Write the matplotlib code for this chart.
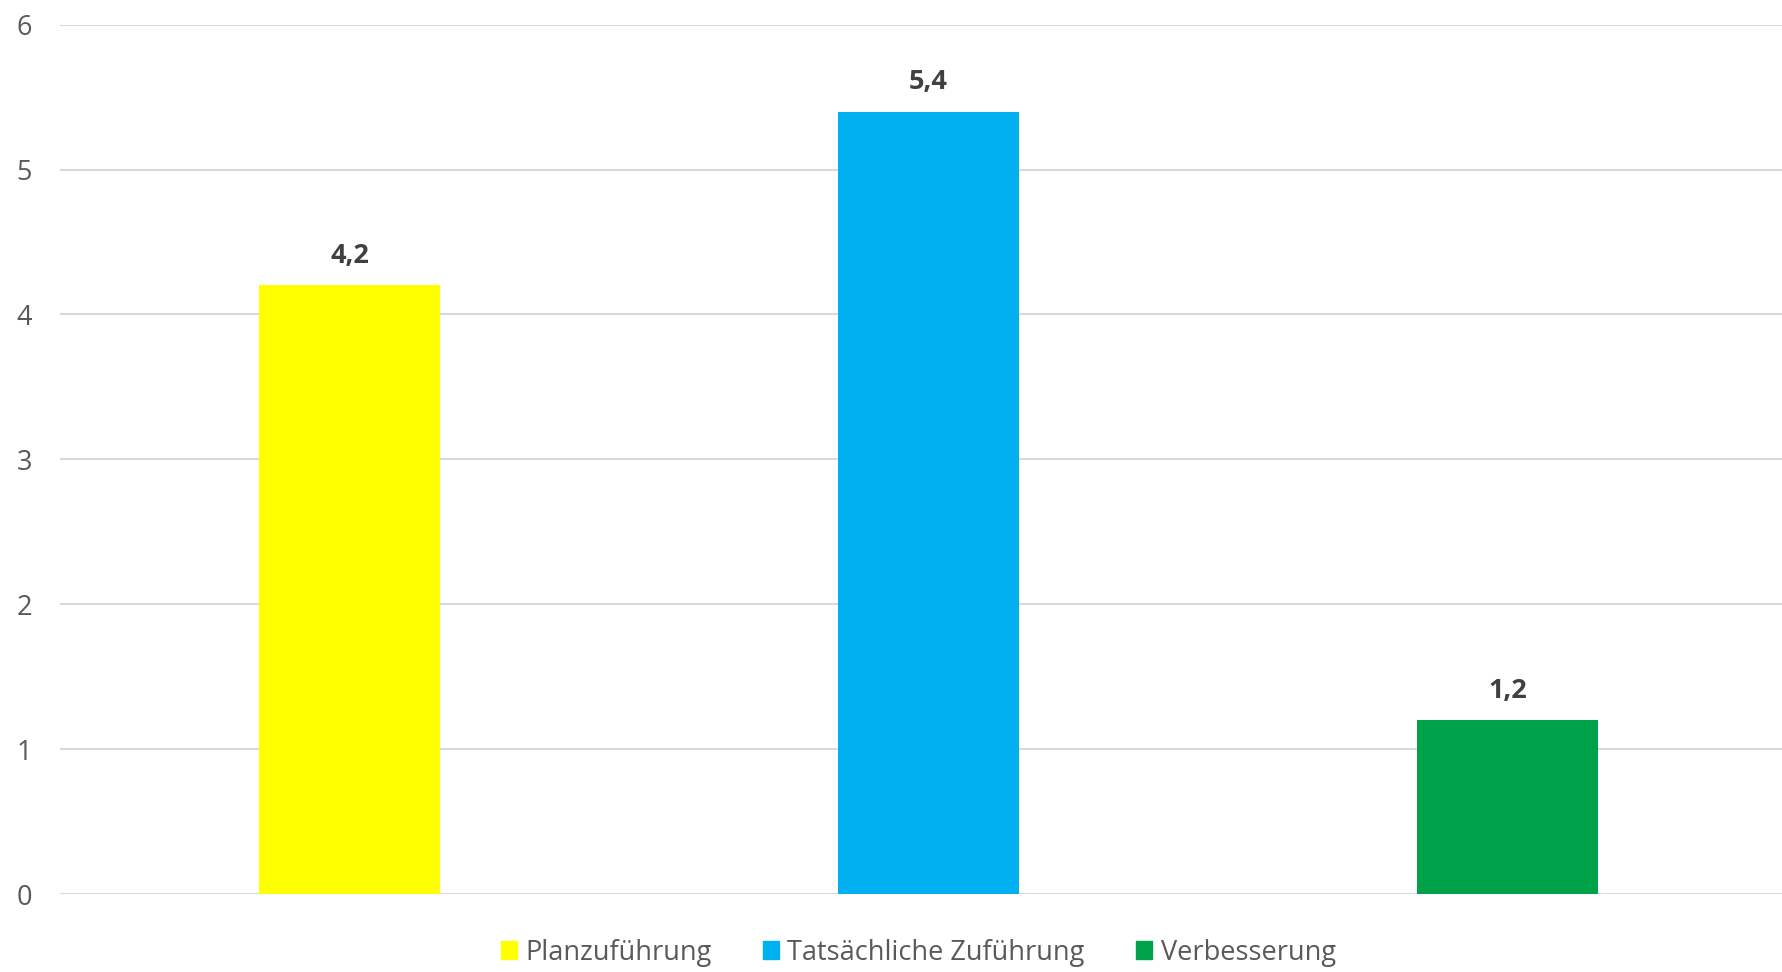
import matplotlib.pyplot as plt
import numpy as np

categories = ['Planzuführung', 'Tatsächliche Zuführung', 'Verbesserung']
values = [4.2, 5.4, 1.2]
value_labels = ['4,2', '5,4', '1,2']
colors = ['#FFFF00', '#00B0F0', '#00A249']
yticks = [0, 1, 2, 3, 4, 5, 6]

plt.rcParams['font.family'] = ['Open Sans', 'DejaVu Sans']

fig = plt.figure(figsize=(17.83, 9.72), dpi=100)
ax = fig.add_axes([0.0337, 0.0802, 0.9663, 0.8944])

x = np.arange(len(categories))
bars = ax.bar(x, values, width=0.314, color=colors, label=categories, zorder=3)

# value labels above bars
for xi, v, lab in zip(x, values, value_labels):
    ax.annotate(lab, (xi, v), xytext=(0, 21), textcoords='offset points',
                ha='center', va='center', fontsize=19.5, fontweight='bold', color='#404040')

ax.set_xlim(-0.5, 2.476)
ax.set_ylim(0, 6)
ax.set_yticks(yticks)
ax.set_yticklabels([str(t) for t in yticks])
ax.set_xticks([])
ax.grid(True, axis='y', color='#d9d9d9', linewidth=1.5, zorder=0)
for s in ax.spines.values():
    s.set_visible(False)
ax.tick_params(axis='y', length=0, pad=20, labelsize=19.5, labelcolor='#595959')

handles = [plt.Rectangle((0, 0), 1, 1, color=c) for c in colors]
fig.legend(handles, categories, loc='center', bbox_to_anchor=(0.515, 0.02),
           ncol=3, frameon=False, fontsize=19.5, labelcolor='#595959',
           handlelength=0.6, handleheight=0.6, handletextpad=0.3, columnspacing=1.9)

fig.savefig('out.png', dpi=100)
